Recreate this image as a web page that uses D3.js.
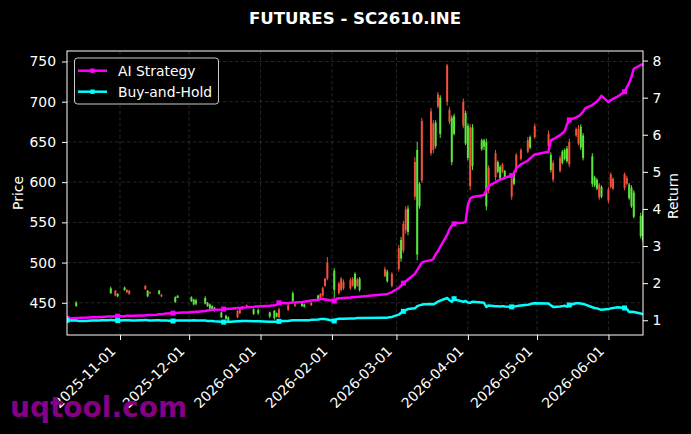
<!DOCTYPE html>
<html lang="en">
<head>
<meta charset="UTF-8">
<title>FUTURES - SC2610.INE</title>
<script src="https://cdnjs.cloudflare.com/ajax/libs/d3/7.8.5/d3.min.js"></script>
<style>
	html, body {margin: 0; padding: 0; background: #000;}
	svg {display: block;}
	text {font-family: "DejaVu Sans", sans-serif;}
</style>
<script>
// trading days, one list of day numbers per month
var months = ["2025-10", "2025-11", "2025-12", "2026-01", "2026-02", "2026-03", "2026-04", "2026-05", "2026-06"];
var tradingDays = [
	[9,10,13,14,15,16,17,20,21,22,23,24,27,28,29,30,31],
	[3,4,5,6,7,10,11,12,13,14,17,18,19,20,21,24,25,26,27,28],
	[1,2,3,4,5,8,9,10,11,12,15,16,17,18,19,22,23,24,25,26,29,30,31],
	[5,6,7,8,9,12,13,14,15,16,19,20,21,22,23,26,27,28,29,30],
	[2,3,4,5,6,9,10,11,12,13,24,25,26,27],
	[2,3,4,5,6,9,10,11,12,13,16,17,18,19,20,23,24,25,26,27,30,31],
	[1,2,3,7,8,9,10,13,14,15,16,17,20,21,22,23,24,27,28,29,30],
	[6,7,8,11,12,13,14,15,18,19,20,21,22,25,26,27,28,29],
	[1,2,3,4,5,8,9,10,11,12,15,16]
];

// daily OHLC (null = no visible bar)
var open = [
	null,null,450,null,null,null,null,null,null,null,
	null,null,null,468,null,459,461,469,463,461,
	null,null,null,null,467,465,462,null,465,458,
	null,null,null,457,459,null,null,null,457,454,
	453,null,456,450,448,446,444,438,null,434,
	432,null,432,437,442,null,446,442,null,441,
	438,null,440,437,432,null,441,null,462,446,
	449,448,null,null,447,459,455,459,471,480,
	490,null,462,466,468,468,471,486,471,480,
	483,489,null,471,492,528,515,540,567,582,
	640,598,602,null,636,640,674,694,705,700,
	675,680,682,null,670,686,670,595,668,652,
	652,650,590,606,625,619,613,614,582,612,
	615,null,629,638,656,null,656,645,634,603,
	614,638,640,642,622,658,648,669,658,null,
	632,606,603,581,594,577,594,592,null,null,
	593,598,597,593,587,558,560
];
var high = [
	null,null,452,null,null,null,null,null,null,null,
	null,null,null,470,null,466,462,470,467,466,
	null,null,null,null,472,466,464,null,466,461,
	null,null,null,458,459,null,null,null,458,455,
	455,null,458,451,449,447,445,439,null,435,
	433,null,441,444,446,null,448,443,null,443,
	439,null,441,438,444,null,449,null,464,449,
	450,449,null,null,451,460,462,470,481,507,
	493,null,476,482,479,481,482,488,481,482,
	495,491,null,488,522,532,552,570,571,631,
	650,600,680,null,692,677,677,712,708,747,
	693,683,685,null,704,689,673,672,672,654,
	654,654,621,640,627,621,624,615,607,614,
	636,null,642,656,658,null,673,664,637,627,
	633,640,642,645,654,668,671,672,661,null,
	636,608,605,599,596,594,612,606,null,null,
	612,608,599,596,590,562,565
];
var low = [
	null,null,445,null,null,null,null,null,null,null,
	null,null,null,461,null,458,457,465,462,460,
	null,null,null,null,466,457,461,null,460,457,
	null,null,null,450,456,null,null,null,451,447,
	447,null,448,445,442,441,439,431,null,429,
	426,null,431,436,441,null,446,435,null,435,
	431,null,429,432,431,null,440,null,451,445,
	445,444,null,null,446,453,454,457,470,478,
	456,null,460,464,466,466,470,466,470,464,
	482,475,null,469,489,501,512,536,534,578,
	503,567,599,null,633,636,642,692,655,695,
	672,621,658,null,667,646,627,590,615,639,
	640,565,586,602,611,602,611,605,578,596,
	612,null,627,636,641,null,654,643,612,600,
	612,622,627,624,619,656,646,640,627,null,
	594,594,590,578,580,574,592,590,null,null,
	590,596,578,568,555,530,525
];
var close = [
	null,null,446,null,null,null,null,null,null,null,
	null,null,null,462,null,465,458,466,466,465,
	null,null,null,null,471,458,463,null,461,460,
	null,null,null,451,456,null,null,null,452,448,
	449,null,449,446,443,442,440,432,null,430,
	427,null,440,442,445,null,447,436,null,437,
	433,null,431,433,442,null,447,null,452,448,
	446,445,null,null,450,454,461,468,480,500,
	466,null,474,480,476,478,480,468,479,466,
	492,477,null,486,518,505,548,566,538,625,
	510,570,676,null,688,673,645,709,660,745,
	690,625,660,null,700,648,630,668,620,641,
	644,570,618,636,613,604,622,606,604,598,
	634,null,640,652,643,null,670,660,615,624,
	630,624,629,626,650,666,666,643,630,null,
	598,596,592,597,582,591,610,604,null,null,
	610,605,580,570,557,533,528
];

// cumulative returns
var aiStrategy = [
	1.05,1.05,1.06,1.06,1.07,1.07,1.07,1.08,1.08,1.08,
	1.09,1.09,1.10,1.10,1.10,1.11,1.11,1.11,1.12,1.12,
	1.12,1.12,1.13,1.13,1.13,1.14,1.14,1.15,1.16,1.16,
	1.17,1.18,1.19,1.19,1.20,1.20,1.21,1.21,1.22,1.22,
	1.23,1.23,1.25,1.26,1.27,1.28,1.28,1.29,1.30,1.30,
	1.31,1.31,1.33,1.33,1.34,1.34,1.35,1.36,1.37,1.37,
	1.39,1.40,1.40,1.42,1.47,1.46,1.46,1.47,1.48,1.48,
	1.49,1.50,1.51,1.52,1.53,1.55,1.57,1.57,1.56,1.55,
	1.52,1.58,1.59,1.59,1.60,1.61,1.62,1.62,1.63,1.63,
	1.70,1.71,1.73,1.76,1.87,1.93,2.00,2.05,2.10,2.25,
	2.35,2.45,2.55,2.58,2.62,2.65,2.78,2.86,2.98,3.30,
	3.45,3.55,3.60,3.62,3.63,3.65,4.10,4.28,4.32,4.36,
	4.38,4.50,4.62,4.72,4.76,4.79,4.81,4.84,4.90,4.95,
	5.10,5.15,5.20,5.30,5.36,5.42,5.47,5.54,5.85,5.88,
	5.99,6.04,6.10,6.28,6.40,6.47,6.50,6.55,6.62,6.72,
	6.80,6.85,6.90,6.96,7.05,6.88,6.93,6.97,7.00,7.03,
	7.16,7.28,7.40,7.56,7.78,7.88,7.91
];
var buyHold = [
	1.00,0.99,0.99,0.98,0.98,0.98,0.98,0.99,0.99,0.99,
	0.99,1.00,1.00,1.01,1.00,1.00,0.99,1.00,1.00,1.00,
	0.99,0.99,1.00,1.00,1.01,1.00,0.99,1.00,1.00,0.99,
	0.99,0.99,0.98,0.99,0.99,0.99,0.99,0.99,0.99,1.00,
	0.99,0.99,0.99,0.98,0.98,0.98,0.97,0.96,0.95,0.96,
	0.96,0.96,0.97,0.97,0.98,0.98,0.98,0.97,0.97,0.97,
	0.96,0.96,0.96,0.96,0.97,0.98,0.98,0.99,1.00,1.00,
	1.00,1.00,1.00,1.00,1.01,1.02,1.03,1.03,1.03,1.02,
	0.98,1.03,1.04,1.04,1.04,1.05,1.05,1.05,1.06,1.06,
	1.07,1.07,1.08,1.09,1.15,1.20,1.24,1.27,1.30,1.32,
	1.38,1.40,1.42,1.43,1.44,1.43,1.46,1.50,1.53,1.60,
	1.54,1.50,1.58,1.55,1.50,1.52,1.48,1.47,1.50,1.48,
	1.47,1.36,1.40,1.38,1.38,1.37,1.38,1.37,1.36,1.37,
	1.38,1.39,1.40,1.42,1.43,1.45,1.46,1.45,1.40,1.36,
	1.37,1.38,1.39,1.37,1.41,1.46,1.46,1.45,1.44,1.42,
	1.35,1.33,1.32,1.30,1.28,1.30,1.32,1.33,1.34,1.35,
	1.33,1.30,1.22,1.23,1.22,1.18,1.16
];

var priceTicks = [450, 500, 550, 600, 650, 700, 750];
var returnTicks = [1, 2, 3, 4, 5, 6, 7, 8];
var seriesNames = ["AI Strategy", "Buy-and-Hold"];
var seriesColors = ["#ff00ff", "#00ffff"];

function drawChart() {
	var svg = d3.select("#chart");
	var L = 67, R = 643, T = 51, B = 335;
	var fs = 13.9;

	var parse = d3.timeParse("%Y-%m-%d");
	var dates = [];
	months.forEach(function(m, i) {
		tradingDays[i].forEach(function(d) {
			dates.push(parse(m + "-" + (d < 10 ? "0" + d : d)));
		});
	});

	var x = d3.scaleTime().domain([dates[0], dates[dates.length - 1]]).range([L, R]);

	var pMin = d3.min(low), pMax = d3.max(high), pPad = (pMax - pMin) * 0.05;
	var yP = d3.scaleLinear().domain([pMin - pPad, pMax + pPad]).range([B, T]);

	var rMin = Math.min(d3.min(aiStrategy), d3.min(buyHold));
	var rMax = Math.max(d3.max(aiStrategy), d3.max(buyHold));
	var rPad = (rMax - rMin) * 0.05;
	var yR = d3.scaleLinear().domain([rMin - rPad, rMax + rPad]).range([B, T]);

	svg.append("rect").attr("width", 691).attr("height", 434).attr("fill", "#000");

	svg.append("defs").append("clipPath").attr("id", "plot")
		.append("rect").attr("x", L).attr("y", T).attr("width", R - L).attr("height", B - T);

	// grid
	var monthTicks = x.ticks(d3.timeMonth.every(1));
	var grid = svg.append("g").attr("stroke", "#8a8a8a").attr("stroke-opacity", 0.4)
		.attr("stroke-width", 0.7).attr("stroke-dasharray", "3.5,2.5");
	grid.selectAll(".gx").data(monthTicks).enter().append("line")
		.attr("x1", function(d) {return x(d);}).attr("x2", function(d) {return x(d);})
		.attr("y1", T).attr("y2", B);
	grid.selectAll(".gy").data(priceTicks).enter().append("line")
		.attr("x1", L).attr("x2", R)
		.attr("y1", function(d) {return yP(d);}).attr("y2", function(d) {return yP(d);});

	// candles
	var idx = d3.range(dates.length).filter(function(i) {return open[i] !== null;});
	var candles = svg.append("g").attr("clip-path", "url(#plot)");
	var col = function(i) {return close[i] >= open[i] ? "#f0503c" : "#5ae63c";};
	candles.selectAll(".wick").data(idx).enter().append("line")
		.attr("x1", function(i) {return x(dates[i]);}).attr("x2", function(i) {return x(dates[i]);})
		.attr("y1", function(i) {return yP(high[i]);}).attr("y2", function(i) {return yP(low[i]);})
		.attr("stroke", col).attr("stroke-width", 1);
	candles.selectAll(".body").data(idx).enter().append("rect")
		.attr("x", function(i) {return x(dates[i]) - 1;})
		.attr("width", 2)
		.attr("y", function(i) {return yP(Math.max(open[i], close[i]));})
		.attr("height", function(i) {return Math.max(1, Math.abs(yP(open[i]) - yP(close[i])));})
		.attr("fill", col);

	// return lines
	var lines = svg.append("g").attr("clip-path", "url(#plot)");
	[aiStrategy, buyHold].forEach(function(s, k) {
		var line = d3.line()
			.x(function(d, i) {return x(dates[i]);})
			.y(function(d) {return yR(d);});
		lines.append("path").datum(s)
			.attr("d", line).attr("fill", "none")
			.attr("stroke", seriesColors[k]).attr("stroke-width", 2.5)
			.attr("stroke-linejoin", "round");
		var marks = d3.range(0, s.length, 16);
		lines.selectAll(".m" + k).data(marks).enter().append("rect")
			.attr("x", function(i) {return x(dates[i]) - 2.5;})
			.attr("y", function(i) {return yR(s[i]) - 2.5;})
			.attr("width", 5).attr("height", 5)
			.attr("fill", seriesColors[k]);
	});

	// spines
	svg.append("rect").attr("x", L).attr("y", T).attr("width", R - L).attr("height", B - T)
		.attr("fill", "none").attr("stroke", "#fff").attr("stroke-width", 1);

	function styleAxis(g) {
		g.select(".domain").remove();
		g.selectAll(".tick line").attr("stroke", "#fff");
		g.selectAll(".tick text").attr("fill", "#fff").style("font-size", fs + "px")
			.style("font-family", "DejaVu Sans");
	}

	svg.append("g").attr("transform", "translate(" + L + ",0)")
		.call(d3.axisLeft(yP).tickValues(priceTicks).tickSize(5).tickPadding(6))
		.call(styleAxis);

	svg.append("g").attr("transform", "translate(" + R + ",0)")
		.call(d3.axisRight(yR).tickValues(returnTicks).tickSize(5).tickPadding(4.5))
		.call(styleAxis);

	svg.append("g").attr("transform", "translate(0," + B + ")")
		.call(d3.axisBottom(x).tickValues(monthTicks).tickSize(5).tickFormat(d3.timeFormat("%Y-%m-%d")))
		.call(styleAxis)
		.selectAll(".tick text")
		.attr("x", 0).attr("y", 0).attr("dy", 0)
		.attr("text-anchor", "end")
		.attr("transform", "translate(-4,17) rotate(-45)");

	// labels
	svg.append("text").attr("x", 355).attr("y", 24).attr("text-anchor", "middle")
		.attr("fill", "#fff").style("font-size", "16.6px").style("font-weight", "bold")
		.text("FUTURES - SC2610.INE");
	svg.append("text").attr("transform", "translate(22.5,193) rotate(-90)")
		.attr("text-anchor", "middle").attr("fill", "#fff").style("font-size", fs + "px")
		.text("Price");
	svg.append("text").attr("transform", "translate(677.5,196) rotate(-90)")
		.attr("text-anchor", "middle").attr("fill", "#fff").style("font-size", fs + "px")
		.text("Return");

	// legend
	var lg = svg.append("g");
	lg.append("rect").attr("x", 74.5).attr("y", 58).attr("width", 144).attr("height", 46)
		.attr("rx", 3).attr("fill", "#000").attr("fill-opacity", 0.8)
		.attr("stroke", "#cccccc").attr("stroke-width", 1);
	seriesNames.forEach(function(name, k) {
		var ly = 70.7 + k * 21;
		lg.append("line").attr("x1", 78).attr("x2", 107).attr("y1", ly).attr("y2", ly)
			.attr("stroke", seriesColors[k]).attr("stroke-width", 2.5);
		lg.append("rect").attr("x", 92.5 - 2.2).attr("y", ly - 2.2).attr("width", 4.4).attr("height", 4.4)
			.attr("fill", seriesColors[k]);
		lg.append("text").attr("x", 118).attr("y", ly + 4.9).attr("fill", "#fff")
			.style("font-size", fs + "px").text(name);
	});

	// watermark
	svg.append("text").attr("x", 10).attr("y", 417).attr("fill", "#850085")
		.style("font-size", "28px").style("font-weight", "bold")
		.text("uqtool.com");
}
</script>
</head>
<body onload="drawChart()">
<svg id="chart" width="691" height="434"></svg>
</body>
</html>
